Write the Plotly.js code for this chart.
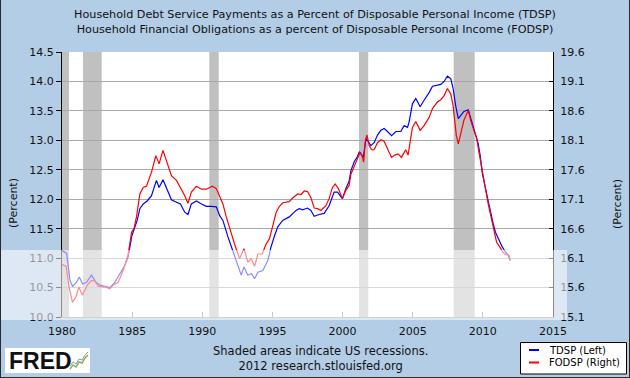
<!DOCTYPE html>
<html>
<head>
<meta charset="utf-8">
<script src="https://cdn.plot.ly/plotly-3.0.1.min.js"></script>
<style>
  html, body { margin:0; padding:0; background:#B4CDE6; }
  #wrap { position:relative; width:630px; height:378px; }
  #frame { position:absolute; left:0; top:0; width:630px; height:378px; box-sizing:border-box;
           border-left:1px solid #2a2a2a; border-right:1px solid #2a2a2a; border-bottom:1px solid #2a2a2a; pointer-events:none; }
</style>
</head>
<body>
<div id="wrap"><div id="chart"></div><div id="frame"></div></div>
<script>
// ---- Data ----
const tdspYears = [1980.0,1980.33,1980.57,1980.76,1981.04,1981.23,1981.47,1981.75,1982.1,1982.42,
  1982.7,1983.18,1983.41,1983.77,1984.12,1984.48,1984.72,1984.96,1985.2,1985.36,
  1985.55,1985.79,1986.07,1986.38,1986.73,1986.92,1987.2,1987.45,1987.8,1988.16,
  1988.44,1988.75,1988.98,1989.22,1989.58,1989.94,1990.29,1990.65,1991.0,1991.24,
  1991.47,1991.83,1992.07,1992.42,1992.78,1992.97,1993.25,1993.49,1993.73,1993.96,
  1994.32,1994.67,1994.9,1995.15,1995.38,1995.73,1996.2,1996.68,1996.91,1997.15,
  1997.5,1997.74,1997.98,1998.33,1998.69,1999.04,1999.4,1999.64,1999.87,1999.99,
  2000.23,2000.46,2000.6,2000.84,2001.03,2001.19,2001.31,2001.48,2001.55,2001.67,
  2001.83,2002.02,2002.25,2002.49,2002.73,2002.97,2003.2,2003.49,2003.8,2004.15,
  2004.39,2004.63,2004.74,2004.98,2005.22,2005.53,2005.81,2006.17,2006.41,2006.76,
  2007.0,2007.24,2007.47,2007.71,2007.88,2008.06,2008.25,2008.42,2008.65,2008.96,
  2009.13,2009.29,2009.48,2009.67,2009.81,2009.95,2010.14,2010.33,2010.55,2010.74,
  2010.9,2011.14,2011.38,2011.62,2011.81,2011.95];
const tdsp = [11.13,11.08,10.62,10.52,10.59,10.68,10.56,10.59,10.71,10.59,
  10.54,10.52,10.50,10.59,10.73,10.88,11.02,11.36,11.53,11.64,
  11.84,11.92,11.97,12.06,12.32,12.20,12.33,12.18,11.99,11.95,
  11.92,11.78,11.74,11.92,11.97,11.92,11.88,11.88,11.87,11.72,
  11.64,11.36,11.19,10.96,10.71,10.85,10.71,10.74,10.65,10.76,
  10.79,10.96,11.19,11.38,11.53,11.64,11.70,11.81,11.84,11.82,
  11.85,11.81,11.71,11.74,11.76,11.89,12.12,12.12,12.05,12.01,
  12.18,12.30,12.49,12.64,12.71,12.80,12.77,12.71,12.83,13.03,
  12.98,12.91,12.96,13.09,13.17,13.20,13.15,13.08,13.15,13.15,
  13.25,13.22,13.31,13.62,13.71,13.57,13.68,13.81,13.92,13.94,
  13.95,14.00,14.09,14.05,13.88,13.59,13.37,13.42,13.49,13.52,
  13.37,13.25,13.08,12.94,12.74,12.46,12.23,12.01,11.78,11.58,
  11.44,11.30,11.19,11.10,11.05,10.96];

const fodspYears = [1980.0,1980.3,1980.5,1980.75,1980.99,1981.2,1981.45,1981.8,1982.1,1982.35,
  1982.6,1983.08,1983.41,1983.65,1984.0,1984.36,1984.72,1984.96,1985.13,1985.31,
  1985.55,1985.79,1986.02,1986.38,1986.69,1986.92,1987.2,1987.5,1987.8,1988.16,
  1988.44,1988.75,1988.98,1989.22,1989.58,1989.94,1990.29,1990.72,1991.0,1991.24,
  1991.47,1991.71,1992.02,1992.3,1992.66,1992.97,1993.25,1993.49,1993.73,1993.96,
  1994.27,1994.55,1994.79,1995.03,1995.27,1995.5,1995.74,1996.2,1996.44,1996.8,
  1997.04,1997.27,1997.5,1997.74,1997.98,1998.22,1998.45,1998.81,1999.04,1999.28,
  1999.47,1999.7,1999.99,2000.23,2000.46,2000.6,2000.84,2001.08,2001.26,2001.43,
  2001.5,2001.62,2001.74,2001.9,2002.07,2002.25,2002.49,2002.73,2002.97,2003.25,
  2003.49,2003.72,2003.96,2004.2,2004.39,2004.5,2004.67,2004.86,2004.98,2005.22,
  2005.53,2005.81,2006.17,2006.41,2006.76,2007.0,2007.24,2007.47,2007.71,2007.88,
  2008.02,2008.11,2008.25,2008.42,2008.65,2008.96,2009.13,2009.36,2009.55,2009.72,
  2009.86,2010.0,2010.19,2010.38,2010.6,2010.79,2010.98,2011.2,2011.43,2011.62,
  2011.86,2011.95];
const fodsp = [15.99,15.96,15.61,15.35,15.44,15.61,15.47,15.64,15.72,15.71,
  15.62,15.61,15.58,15.64,15.69,15.89,16.17,16.54,16.60,16.80,
  17.19,17.30,17.32,17.56,17.84,17.70,17.93,17.73,17.50,17.42,
  17.30,17.16,17.03,17.22,17.32,17.27,17.27,17.32,17.28,17.13,
  17.02,16.80,16.54,16.34,16.09,16.26,16.03,16.09,15.96,16.17,
  16.17,16.34,16.43,16.68,16.88,16.98,17.04,17.06,17.12,17.19,
  17.18,17.24,17.23,17.13,16.95,16.94,16.91,16.99,17.11,17.30,
  17.36,17.28,17.11,17.25,17.33,17.53,17.67,17.79,17.90,17.81,
  17.73,18.10,18.19,18.01,17.94,17.94,18.06,18.11,18.08,17.93,
  17.81,17.85,17.87,17.81,17.90,17.94,17.85,18.15,18.32,18.42,
  18.27,18.35,18.49,18.64,18.75,18.79,18.86,18.98,18.89,18.69,
  18.41,18.18,18.04,18.21,18.44,18.61,18.44,18.27,18.15,17.90,
  17.73,17.50,17.28,17.02,16.80,16.60,16.37,16.29,16.20,16.16,
  16.15,16.06];

const recessionStart = [1980.0, 1981.5, 1990.5, 2001.17, 2007.92];
const recessionEnd   = [1980.5, 1982.83, 1991.17, 2001.83, 2009.42];

const xTicks  = [1980,1985,1990,1995,2000,2005,2010,2015];
const yTicksL = [10.0,10.5,11.0,11.5,12.0,12.5,13.0,13.5,14.0,14.5];
const yTicksR = [15.1,15.6,16.1,16.6,17.1,17.6,18.1,18.6,19.1,19.6];

const titleLines = ["Household Debt Service Payments as a Percent of Disposable Personal Income (TDSP)",
                    "Household Financial Obligations as a percent of Disposable Personal Income (FODSP)"];
const seriesNames = ["TDSP (Left)", "FODSP (Right)"];
const footerLines = ["Shaded areas indicate US recessions.", "2012 research.stlouisfed.org"];

// ---- Geometry helpers (pixel -> paper) ----
const FW = 630, FH = 378, L = 62, R = 553, T = 52, B = 317;
const px = x => (x - L) / (R - L);
const py = y => (B - y) / (B - T);

const FONT = 'DejaVu Sans, Verdana, sans-serif';

const traces = [
  { x: tdspYears, y: tdsp, type: 'scatter', mode: 'lines', name: seriesNames[0],
    line: { color: '#0000FF', width: 1.2 }, yaxis: 'y' },
  { x: fodspYears, y: fodsp, type: 'scatter', mode: 'lines', name: seriesNames[1],
    line: { color: '#FF0000', width: 1.2 }, yaxis: 'y2' }
];

const shapes = [];
recessionStart.forEach((s, i) => {
  shapes.push({ type: 'rect', xref: 'x', yref: 'paper', x0: s, x1: recessionEnd[i], y0: 0, y1: 1,
    fillcolor: '#C0C0C0', line: { width: 0 }, layer: 'between' });
});
// legend box
shapes.push({ type: 'rect', xref: 'paper', yref: 'paper', x0: px(520.5), x1: px(626.5), y0: py(374), y1: py(342.5),
  fillcolor: '#FFFFFF', line: { color: '#000000', width: 1 }, layer: 'above' });
shapes.push({ type: 'line', xref: 'paper', yref: 'paper', x0: px(529), x1: px(539), y0: py(350), y1: py(350),
  line: { color: '#0000FF', width: 2 }, layer: 'above' });
shapes.push({ type: 'line', xref: 'paper', yref: 'paper', x0: px(529), x1: px(539), y0: py(362.5), y1: py(362.5),
  line: { color: '#FF0000', width: 2 }, layer: 'above' });
// FRED logo box + icon
shapes.push({ type: 'rect', xref: 'paper', yref: 'paper', x0: px(5), x1: px(90), y0: py(373), y1: py(348),
  fillcolor: '#FFFFFF', line: { width: 0 }, layer: 'above' });
function pathPx(pts) { return pts.map((p, i) => (i ? 'L' : 'M') + px(p[0]) + ',' + py(p[1])).join(' '); }
shapes.push({ type: 'path', xref: 'paper', yref: 'paper',
  path: pathPx([[70,369],[73,365],[76,367],[79,362],[82,363],[85,358],[88,355]]),
  line: { color: '#8FB060', width: 1.5 }, layer: 'above' });
shapes.push({ type: 'path', xref: 'paper', yref: 'paper',
  path: pathPx([[70,366],[73,362],[76,364],[79,359],[82,360],[85,355],[88,352]]),
  line: { color: '#7F9FC0', width: 1 }, layer: 'above' });
// translucent overlay band seen in the reference
shapes.push({ type: 'rect', xref: 'paper', yref: 'paper', x0: px(0), x1: px(567), y0: py(320), y1: py(250),
  fillcolor: 'rgba(255,255,255,0.55)', line: { width: 0 }, layer: 'above' });

const annotations = [
  { xref: 'paper', yref: 'paper', x: px(13), y: py(203), text: '(Percent)', textangle: -90,
    showarrow: false, xanchor: 'center', yanchor: 'middle', font: { size: 11, color: '#111' } },
  { xref: 'paper', yref: 'paper', x: px(617), y: py(204), text: '(Percent)', textangle: -90,
    showarrow: false, xanchor: 'center', yanchor: 'middle', font: { size: 11, color: '#111' } },
  { xref: 'paper', yref: 'paper', x: px(320), y: py(358.5), text: footerLines.join('<br>'),
    showarrow: false, xanchor: 'center', yanchor: 'middle', font: { size: 11.5, color: '#111' } },
  { xref: 'paper', yref: 'paper', x: px(547), y: py(350), text: seriesNames[0],
    showarrow: false, xanchor: 'left', yanchor: 'middle', font: { size: 10, color: '#000' } },
  { xref: 'paper', yref: 'paper', x: px(547), y: py(362.5), text: seriesNames[1],
    showarrow: false, xanchor: 'left', yanchor: 'middle', font: { size: 10, color: '#000' } },
  { xref: 'paper', yref: 'paper', x: px(7), y: py(361), text: '<b>FRED</b>',
    showarrow: false, xanchor: 'left', yanchor: 'middle',
    font: { family: 'Liberation Sans, Arial, sans-serif', size: 23, color: '#111' } }
];

const layout = {
  width: FW, height: FH,
  paper_bgcolor: '#B4CDE6', plot_bgcolor: '#FFFFFF',
  margin: { l: L, r: FW - R, t: T, b: FH - B, pad: 0 },
  font: { family: FONT, size: 11, color: '#111' },
  showlegend: false,
  title: { text: titleLines.join('<br>'), x: 0.5, xref: 'container', xanchor: 'center',
           y: 1 - 18 / FH, yref: 'container', yanchor: 'middle', font: { size: 11.2, color: '#111' } },
  xaxis: { range: [1980, 2015], tickvals: xTicks, ticktext: xTicks.map(String),
           ticks: 'inside', ticklen: 5, tickcolor: '#8a8a8a', showgrid: false, zeroline: false,
           showline: true, linecolor: '#9a9a9a', linewidth: 1, ticklabelstandoff: 4,
           tickfont: { size: 11, color: '#111' } },
  yaxis: { range: [10, 14.5], tickvals: yTicksL, ticktext: yTicksL.map(v => v.toFixed(1)),
           ticks: 'outside', ticklen: 5, tickcolor: '#000', showline: true, linecolor: '#000', linewidth: 1,
           gridcolor: '#A9A9A9', gridwidth: 1, zeroline: false, tickfont: { size: 11, color: '#111' } },
  yaxis2: { overlaying: 'y', side: 'right', range: [15.1, 19.6], tickvals: yTicksR,
            ticktext: yTicksR.map(v => v.toFixed(1)),
            ticks: 'inside', ticklen: 4, tickcolor: '#000', showline: true, linecolor: '#000', linewidth: 1,
            showgrid: false, zeroline: false, ticklabelstandoff: 4, tickfont: { size: 11, color: '#111' } },
  shapes: shapes,
  annotations: annotations,
  hovermode: false
};

Plotly.newPlot('chart', traces, layout, { staticPlot: true, displayModeBar: false });
</script>
</body>
</html>
